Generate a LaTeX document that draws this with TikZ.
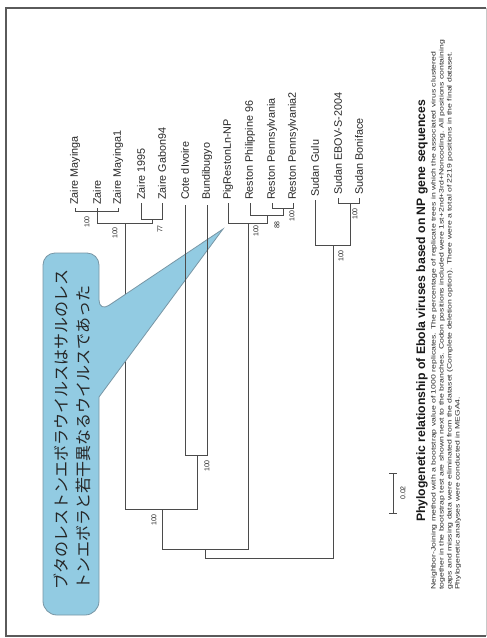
\documentclass[tikz,border=0pt]{standalone}
\usepackage{fontspec}
\setmainfont{Liberation Sans}
\newfontfamily\jpfont{Noto Sans CJK JP}
\usepackage{graphicx}
\definecolor{treegray}{RGB}{75,75,75}
\definecolor{labelcol}{RGB}{40,40,40}
\definecolor{framecol}{RGB}{90,90,90}
\definecolor{framelight}{RGB}{200,200,200}
\definecolor{calloutfill}{RGB}{146,203,226}
\definecolor{calloutedge}{RGB}{120,150,165}
\begin{document}
\begin{tikzpicture}[x=1pt,y=-1pt,
  br/.style={draw=treegray, line width=0.9pt},
  leaf/.style={rotate=90, anchor=west, inner sep=0pt, text=labelcol, font=\fontsize{10.8}{12}\selectfont},
  boot/.style={rotate=90, inner sep=0pt, text=labelcol, font=\fontsize{7}{8}\selectfont},
  capline/.style={rotate=90, anchor=west, inner sep=0pt, text=labelcol},
  jptext/.style={rotate=90, anchor=west, inner sep=0pt, text=black!85, font=\jpfont\fontsize{16}{18}\selectfont}]
\useasboundingbox (0,0) rectangle (487,638);
\fill[white] (0,0) rectangle (487,638);
% frame
\draw[framecol, line width=1.6pt] (486,8) -- (6,8) -- (6,636) -- (486,636);
\draw[framelight, line width=1pt] (486,8) -- (486,636);

% leaf tips
\coordinate (zm) at (75,208);
\coordinate (za) at (97,208);
\coordinate (zm1) at (118,208);
\coordinate (z95) at (141,203);
\coordinate (zg) at (162,203);
\coordinate (ci) at (185,205);
\coordinate (bu) at (207,205);
\coordinate (pig) at (228,203);
\coordinate (rp) at (250,203);
\coordinate (rpa) at (272,203);
\coordinate (rpa2) at (293,203);
\coordinate (sg) at (315,200);
\coordinate (se) at (338,198);
\coordinate (sb) at (359,198);
% internal nodes
\coordinate (nZ3) at (97,211);
\coordinate (nZ95) at (152,219);
\coordinate (nZ) at (125,223);
\coordinate (nCB) at (197,455);
\coordinate (nZCB) at (162,509);
\coordinate (nRC) at (283,208);
\coordinate (nRB) at (267,215);
\coordinate (nR) at (248,223);
\coordinate (nEB) at (205,549);
\coordinate (nSE) at (350,203);
\coordinate (nS) at (333,245);
\coordinate (root) at (269,558);

% branches
\draw[br] (nZ3) -| (zm);
\draw[br] (nZ3) -| (za);
\draw[br] (nZ3) -| (zm1);
\draw[br] (nZ95) -| (z95);
\draw[br] (nZ95) -| (zg);
\draw[br] (nZ) -| (nZ3);
\draw[br] (nZ) -| (nZ95);
\draw[br] (nZCB) -| (nZ);
\draw[br] (nZCB) -| (nCB);
\draw[br] (nRC) -| (rpa);
\draw[br] (nRC) -| (rpa2);
\draw[br] (nRB) -| (rp);
\draw[br] (nRB) -| (nRC);
\draw[br] (nR) -| (pig);
\draw[br] (nR) -| (nRB);
\draw[br] (nEB) -| (nZCB);
\draw[br] (nEB) -| (nR);
\draw[br] (nSE) -| (se);
\draw[br] (nSE) -| (sb);
\draw[br] (nS) -| (sg);
\draw[br] (nS) -| (nSE);
\draw[br] (root) -| (nEB);
\draw[br] (root) -| (nS);

% callout
\path[draw=calloutedge, fill=calloutfill, line width=0.8pt]
  (43,400) [rounded corners=12pt] -- (43,253) -- (99,253) -- (99,312)
  [sharp corners] -- (223,229) -- (99,397) -- (99,500)
  [rounded corners=14pt] -- (99,615) -- (43,615) -- cycle;
\node[jptext] (jp1) at (61,590) {ブタのレストンエボラウイルスはサルのレス};
\node[jptext] (jp2) at (83,590) {トンエボラと若干異なるウイルスであった};

% branches drawn over the callout
\draw[br] (nCB) -| (ci);
\draw[br] (nCB) -| (bu);

% leaf labels
\node[leaf] (lzm) at (75,205) {Zaire Mayinga};
\node[leaf] (lza) at (97,205) {Zaire};
\node[leaf] (lzm1) at (118,205) {Zaire Mayinga1};
\node[leaf] (lz95) at (141,200) {Zaire 1995};
\node[leaf] (lzg) at (162,200) {Zaire Gabon94};
\node[leaf] (lci) at (185,200) {Cote dIvoire};
\node[leaf] (lbu) at (207,200) {Bundibugyo};
\node[leaf] (lpig) at (228,200) {PigRestonLn-NP};
\node[leaf] (lrp) at (250,200) {Reston Philippine 96};
\node[leaf] (lrpa) at (272,200) {Reston Pennsylvania};
\node[leaf] (lrpa2) at (293,200) {Reston Pennsylvania2};
\node[leaf] (lsg) at (315,197) {Sudan Gulu};
\node[leaf] (lse) at (338,195) {Sudan EBOV-S-2004};
\node[leaf] (lsb) at (359,195) {Sudan Boniface};

% bootstrap values
\node[boot] (b1) at (87,222) {100};
\node[boot] (b2) at (115,233) {100};
\node[boot] (b3) at (160,229) {77};
\node[boot] (b4) at (256,231) {100};
\node[boot] (b5) at (277,225) {88};
\node[boot] (b6) at (292,216) {100};
\node[boot] (b7) at (355,214) {100};
\node[boot] (b8) at (341,256) {100};
\node[boot] (b9) at (207,466) {100};
\node[boot] (b10) at (154,520) {100};

% scale bar
\coordinate (sc1) at (393,473);
\coordinate (sc2) at (393,513);
\draw[br] (sc1) -- (sc2);
\draw[br] ([xshift=-4pt]sc1) -- ([xshift=4pt]sc1);
\draw[br] ([xshift=-4pt]sc2) -- ([xshift=4pt]sc2);
\node[boot] (sclab) at (403,493) {0.02};

% title and caption
\node[capline, text=black!90] (title) at (422,522)
  {\resizebox{422pt}{!}{\bfseries\fontsize{12}{14}\selectfont Phylogenetic relationship of Ebola viruses based on NP gene sequences}};
\node[capline] (c1) at (434,590)
  {\resizebox{538pt}{4.6pt}{\fontsize{7}{8}\selectfont Neighbor-Joining method with a bootstrap value of 1000 replicates. The percentage of replicate trees in which the associated virus clustered}};
\node[capline] (c2) at (442,590)
  {\resizebox{550pt}{4.6pt}{\fontsize{7}{8}\selectfont together in the bootstrap test are shown next to the branches. Codon positions included were 1st+2nd+3rd+Noncoding. All positions containing}};
\node[capline] (c3) at (450,590)
  {\resizebox{538pt}{4.6pt}{\fontsize{7}{8}\selectfont gaps and missing data were eliminated from the dataset (Complete deletion option). There were a total of 2219 positions in the final dataset.}};
\node[capline] (c4) at (458,590)
  {\resizebox{193pt}{4.6pt}{\fontsize{7}{8}\selectfont Phylogenetic analyses were conducted in MEGA4.}};
\end{tikzpicture}
\end{document}
